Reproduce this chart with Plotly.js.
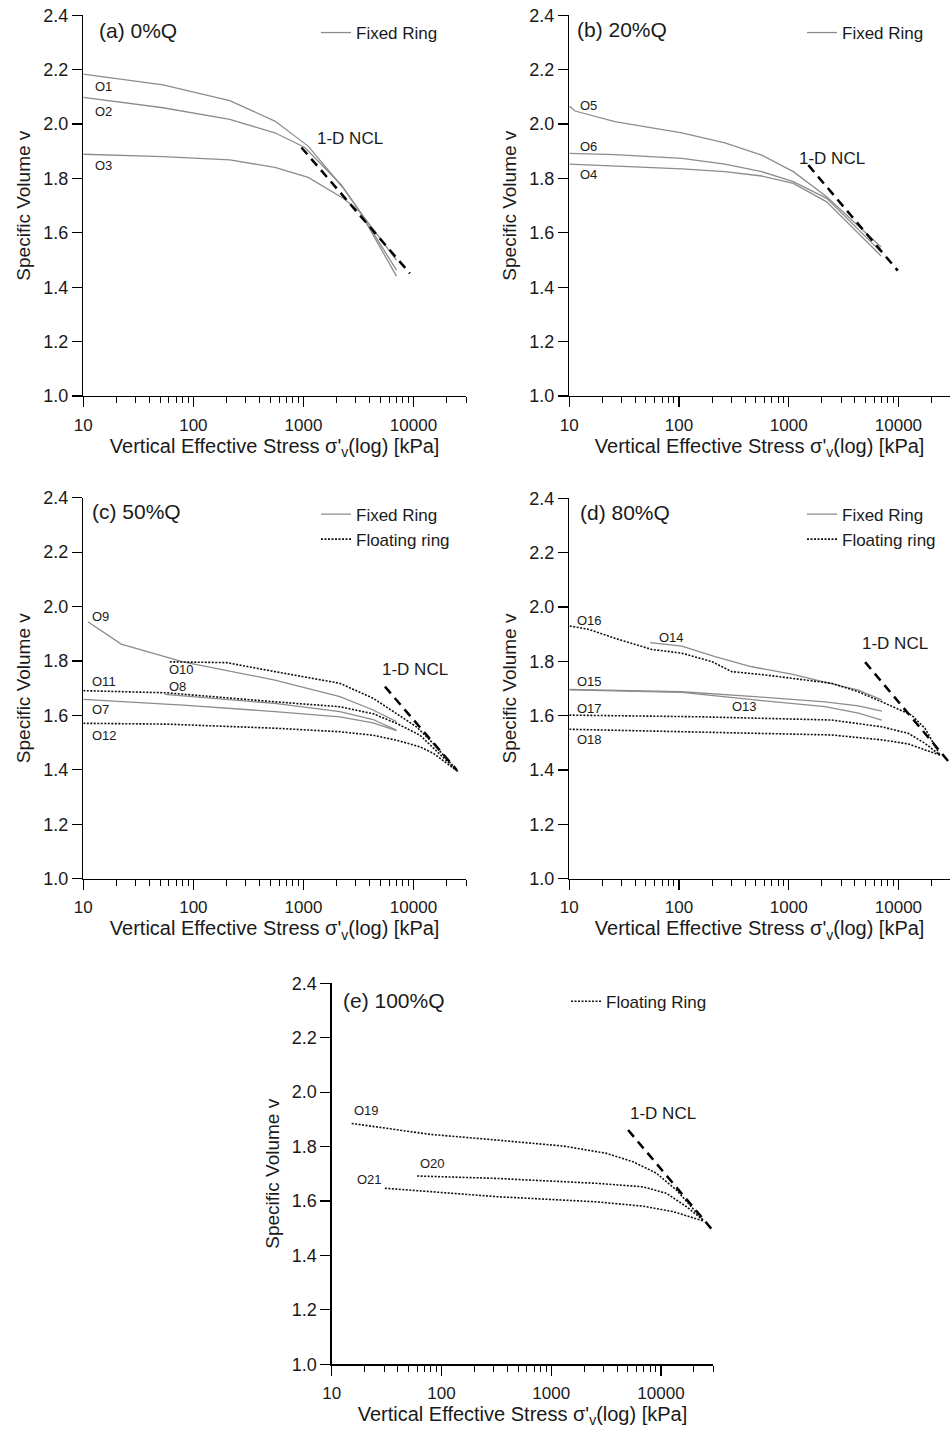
<!DOCTYPE html>
<html>
<head>
<meta charset="utf-8">
<script src="https://cdn.plot.ly/plotly-3.0.1.min.js"></script>
<style>html,body{margin:0;padding:0;background:#fff;}#chart{width:950px;height:1432px;}</style>
</head>
<body>
<div id="chart"></div>
<script>
// ---------- Data ----------
// (a) 0%Q  - fixed ring
const O1_x = [10, 53, 214, 550, 1104, 2296, 3258, 7000];
const O1_v = [2.184, 2.144, 2.086, 2.011, 1.919, 1.765, 1.678, 1.441];
const O2_x = [10, 53, 214, 550, 1030, 2213, 3258, 7000];
const O2_v = [2.098, 2.060, 2.017, 1.968, 1.914, 1.776, 1.678, 1.463];
const O3_x = [10, 53, 214, 550, 1104, 2296, 3258, 7000];
const O3_v = [1.889, 1.880, 1.868, 1.841, 1.804, 1.727, 1.678, 1.500];
const NCLa_x = [959, 9270];
const NCLa_v = [1.914, 1.451];

// (b) 20%Q - fixed ring
const O5_x = [10, 11.3, 26, 106, 262, 567, 1101, 2218, 6940];
const O5_v = [2.066, 2.048, 2.009, 1.968, 1.931, 1.886, 1.825, 1.733, 1.548];
const O6_x = [10, 26, 106, 262, 567, 1101, 2218, 6940];
const O6_v = [1.892, 1.888, 1.874, 1.853, 1.825, 1.788, 1.727, 1.530];
const O4_x = [10, 26, 106, 262, 567, 1101, 2218, 6940];
const O4_v = [1.853, 1.846, 1.835, 1.825, 1.809, 1.782, 1.714, 1.515];
const NCLb_x = [1510, 9860];
const NCLb_v = [1.849, 1.461];

// (c) 50%Q
const O7_x = [10, 80.5, 550, 2143, 4300, 7000];
const O7_v = [1.659, 1.638, 1.614, 1.595, 1.573, 1.544];
const O8_x = [55, 550, 2143, 4300, 7000];
const O8_v = [1.677, 1.644, 1.614, 1.585, 1.546];
const O9_x = [11, 22.1, 80.5, 550, 2143, 4300, 7000];
const O9_v = [1.944, 1.862, 1.797, 1.730, 1.669, 1.620, 1.577];
const O10_x = [61, 200, 550, 2143, 4300, 7000, 10650, 15100, 25500];
const O10_v = [1.797, 1.794, 1.761, 1.718, 1.663, 1.608, 1.558, 1.497, 1.393];
const O11_x = [10, 57, 550, 2143, 4300, 7000, 11400, 25500];
const O11_v = [1.691, 1.683, 1.650, 1.632, 1.606, 1.571, 1.528, 1.393];
const O12_x = [10, 57, 550, 2143, 4300, 7000, 11400, 15100, 25500];
const O12_v = [1.571, 1.568, 1.553, 1.540, 1.527, 1.509, 1.485, 1.461, 1.393];
const NCLc_x = [5500, 24600];
const NCLc_v = [1.706, 1.400];

// (d) 80%Q
const O13_x = [10, 106, 493, 2143, 4315, 7050];
const O13_v = [1.695, 1.686, 1.658, 1.633, 1.609, 1.584];
const O14_x = [54.5, 106, 213, 460, 1064, 4315, 7050];
const O14_v = [1.869, 1.856, 1.817, 1.780, 1.753, 1.694, 1.658];
const O15_x = [10, 106, 493, 2143, 4315, 7050];
const O15_v = [1.697, 1.688, 1.670, 1.651, 1.636, 1.617];
const O16_x = [10.1, 14.9, 26, 56, 106, 199, 302, 608, 2466, 4315, 7050, 13200, 17500, 23900];
const O16_v = [1.930, 1.918, 1.885, 1.844, 1.830, 1.799, 1.762, 1.750, 1.719, 1.688, 1.651, 1.602, 1.553, 1.455];
const O17_x = [10, 150, 2466, 7050, 12300, 17500, 23900];
const O17_v = [1.602, 1.596, 1.584, 1.559, 1.535, 1.498, 1.455];
const O18_x = [10, 150, 2466, 7050, 12300, 17500, 23900];
const O18_v = [1.550, 1.541, 1.529, 1.511, 1.496, 1.474, 1.455];
const NCLd_x = [4970, 29500];
const NCLd_v = [1.797, 1.425];

// (e) 100%Q - floating ring
const O19_x = [15.2, 39, 78.5, 318, 1285, 3200, 5590, 9120, 13870, 18300, 24200];
const O19_v = [1.885, 1.863, 1.845, 1.824, 1.802, 1.775, 1.744, 1.702, 1.640, 1.585, 1.530];
const O20_x = [60, 318, 2590, 6890, 11250, 17100, 24200];
const O20_v = [1.692, 1.683, 1.665, 1.652, 1.628, 1.579, 1.530];
const O21_x = [30.5, 318, 2590, 6890, 12900, 18300, 24200];
const O21_v = [1.647, 1.616, 1.597, 1.581, 1.561, 1.542, 1.527];
const NCLe_x = [5020, 29800];
const NCLe_v = [1.861, 1.491];

// Panel titles and curve labels
const panelTitles = ['(a) 0%Q', '(b) 20%Q', '(c) 50%Q', '(d) 80%Q', '(e) 100%Q'];
const labA_t = ['O1', 'O2', 'O3'];  const labA_x = [12.2, 12.2, 12.2];  const labA_v = [2.140, 2.045, 1.849];
const labB_t = ['O5', 'O6', 'O4'];  const labB_x = [12.0, 12.0, 12.0];  const labB_v = [2.070, 1.919, 1.813];
const labC_t = ['O9', 'O10', 'O11', 'O8', 'O7', 'O12'];
const labC_x = [11.5, 57, 11.5, 57, 11.5, 11.5];
const labC_v = [1.963, 1.767, 1.724, 1.708, 1.620, 1.528];
const labD_t = ['O16', 'O14', 'O15', 'O17', 'O18', 'O13'];
const labD_x = [11.3, 62.7, 11.3, 11.3, 11.3, 292];
const labD_v = [1.952, 1.888, 1.725, 1.627, 1.513, 1.633];
const labE_t = ['O19', 'O20', 'O21'];
const labE_x = [15.2, 61.5, 16.3];
const labE_v = [1.932, 1.738, 1.680];
const nclLabel = '1-D NCL';
const nclLab_x = [1271, 1183, 4955, 4467, 5020];
const nclLab_v = [1.948, 1.874, 1.767, 1.866, 1.922];
const xTickVals = [10, 100, 1000, 10000];
const xTickText = ['10', '100', '1000', '10000'];

// ---------- Styles ----------
const FONT = 'Arial, "Liberation Sans", sans-serif';
const TXT = '#1a1a1a';
const fixedLine = {color: '#8c8c8c', width: 1.3};
const floatLine = {color: '#111111', width: 1.6, dash: '2px,1.5px'};
const nclLine = {color: '#000000', width: 2.5, dash: '9px,6px'};

const traces = [];
function add(x, v, ax, style, name, legend) {
  traces.push({
    x: x, y: v, xaxis: ax[0], yaxis: ax[1], type: 'scatter', mode: 'lines',
    line: style, name: name || '', showlegend: !!legend, legend: legend || 'legend',
    hoverinfo: 'x+y'
  });
}
// (a)
add(O1_x, O1_v, ['x', 'y'], fixedLine, 'Fixed Ring', 'legend');
add(O2_x, O2_v, ['x', 'y'], fixedLine);
add(O3_x, O3_v, ['x', 'y'], fixedLine);
add(NCLa_x, NCLa_v, ['x', 'y'], nclLine);
// (b)
add(O5_x, O5_v, ['x2', 'y2'], fixedLine, 'Fixed Ring', 'legend2');
add(O6_x, O6_v, ['x2', 'y2'], fixedLine);
add(O4_x, O4_v, ['x2', 'y2'], fixedLine);
add(NCLb_x, NCLb_v, ['x2', 'y2'], nclLine);
// (c)
add(NCLc_x, NCLc_v, ['x3', 'y3'], nclLine);
add(O7_x, O7_v, ['x3', 'y3'], fixedLine, 'Fixed Ring', 'legend3');
add(O8_x, O8_v, ['x3', 'y3'], fixedLine);
add(O9_x, O9_v, ['x3', 'y3'], fixedLine);
add(O10_x, O10_v, ['x3', 'y3'], floatLine, 'Floating ring', 'legend3');
add(O11_x, O11_v, ['x3', 'y3'], floatLine);
add(O12_x, O12_v, ['x3', 'y3'], floatLine);
// (d)
add(NCLd_x, NCLd_v, ['x4', 'y4'], nclLine);
add(O13_x, O13_v, ['x4', 'y4'], fixedLine, 'Fixed Ring', 'legend4');
add(O14_x, O14_v, ['x4', 'y4'], fixedLine);
add(O15_x, O15_v, ['x4', 'y4'], fixedLine);
add(O16_x, O16_v, ['x4', 'y4'], floatLine, 'Floating ring', 'legend4');
add(O17_x, O17_v, ['x4', 'y4'], floatLine);
add(O18_x, O18_v, ['x4', 'y4'], floatLine);
// (e)
add(NCLe_x, NCLe_v, ['x5', 'y5'], nclLine);
add(O19_x, O19_v, ['x5', 'y5'], floatLine, 'Floating Ring', 'legend5');
add(O20_x, O20_v, ['x5', 'y5'], floatLine);
add(O21_x, O21_v, ['x5', 'y5'], floatLine);

// ---------- Layout ----------
const W = 950, H = 1432;
// pixel boxes of each panel: [left, right, top, bottom]
const boxes = [
  [83.3, 466, 15.3, 396],
  [569.3, 950, 15.3, 396],
  [83.3, 466, 497.7, 878.7],
  [569.3, 950, 498.3, 878.7],
  [331.7, 713.3, 983.3, 1364.3]
];
const xRanges = [[1, 4.477], [1, 4.470], [1, 4.477], [1, 4.470], [1, 4.477]];

const layout = {
  width: W, height: H,
  margin: {l: 0, r: 0, t: 0, b: 0},
  paper_bgcolor: '#ffffff', plot_bgcolor: 'rgba(0,0,0,0)',
  font: {family: FONT, color: TXT, size: 16},
  annotations: [],
  hovermode: false
};

const xTitle = 'Vertical Effective Stress σ\'<sub>v</sub>(log) [kPa]';
const titlePos = [[0.036, 0.961], [0.015, 0.964], [0.0175, 0.9625], [0.023, 0.9625], [0.0236, 0.954]];
boxes.forEach((b, i) => {
  const s = i === 0 ? '' : String(i + 1);
  layout['xaxis' + s] = {
    type: 'log', range: xRanges[i],
    domain: [b[0] / W, Math.min(1, b[1] / W)],
    anchor: 'y' + s,
    tickmode: 'array', tickvals: xTickVals, ticktext: xTickText,
    ticks: 'outside', ticklen: 10, tickwidth: 1.2, tickcolor: '#000',
    minor: {ticks: 'outside', ticklen: 6, tickwidth: 1, tickcolor: '#000', dtick: 'D1', showgrid: false},
    showline: true, linecolor: '#000', linewidth: 1.3,
    showgrid: false, zeroline: false,
    tickfont: {size: 17, family: FONT, color: TXT},
    ticklabelstandoff: 3,
    title: {text: xTitle, font: {size: 20, family: FONT, color: TXT}, standoff: 3}
  };
  layout['yaxis' + s] = {
    range: [1.0, 2.4], dtick: 0.2, tick0: 1.0, tickformat: '.1f',
    domain: [1 - b[3] / H, 1 - b[2] / H],
    anchor: 'x' + s,
    ticks: 'outside', ticklen: 10, tickwidth: 1.2, tickcolor: '#000',
    showline: true, linecolor: '#000', linewidth: 1.3,
    showgrid: false, zeroline: false,
    tickfont: {size: 18, family: FONT, color: TXT},
    title: {text: 'Specific Volume v', font: {size: 19, family: FONT, color: TXT}, standoff: 7}
  };
  // panel title
  layout.annotations.push({
    xref: 'x' + s + ' domain', yref: 'y' + s + ' domain',
    x: titlePos[i][0], y: titlePos[i][1], xanchor: 'left', yanchor: 'middle',
    text: panelTitles[i], showarrow: false,
    font: {size: 21, family: FONT, color: TXT}
  });
  // 1-D NCL label
  layout.annotations.push({
    xref: 'x' + s, yref: 'y' + s,
    x: Math.log10(nclLab_x[i]), y: nclLab_v[i], xanchor: 'left', yanchor: 'middle',
    text: nclLabel, showarrow: false,
    font: {size: 17, family: FONT, color: TXT}
  });
});

function labels(t, x, v, s) {
  t.forEach((txt, k) => {
    layout.annotations.push({
      xref: 'x' + s, yref: 'y' + s,
      x: Math.log10(x[k]), y: v[k], xanchor: 'left', yanchor: 'middle',
      text: txt, showarrow: false,
      font: {size: 13, family: FONT, color: TXT}
    });
  });
}
labels(labA_t, labA_x, labA_v, '');
labels(labB_t, labB_x, labB_v, '2');
labels(labC_t, labC_x, labC_v, '3');
labels(labD_t, labD_x, labD_v, '4');
labels(labE_t, labE_x, labE_v, '5');

const legBase = {bgcolor: 'rgba(0,0,0,0)', borderwidth: 0, xanchor: 'left', yanchor: 'middle',
  font: {size: 17, family: FONT, color: TXT}, tracegroupgap: 0};
layout.legend  = Object.assign({}, legBase, {x: 316 / W, y: 1 - 33 / H});
layout.legend2 = Object.assign({}, legBase, {x: 802 / W, y: 1 - 33 / H});
layout.legend3 = Object.assign({}, legBase, {x: 316 / W, y: 1 - 527 / H});
layout.legend4 = Object.assign({}, legBase, {x: 802 / W, y: 1 - 527 / H});
layout.legend5 = Object.assign({}, legBase, {x: 566 / W, y: 1 - 1001.7 / H});

Plotly.newPlot('chart', traces, layout, {staticPlot: true, displayModeBar: false});
</script>
</body>
</html>
